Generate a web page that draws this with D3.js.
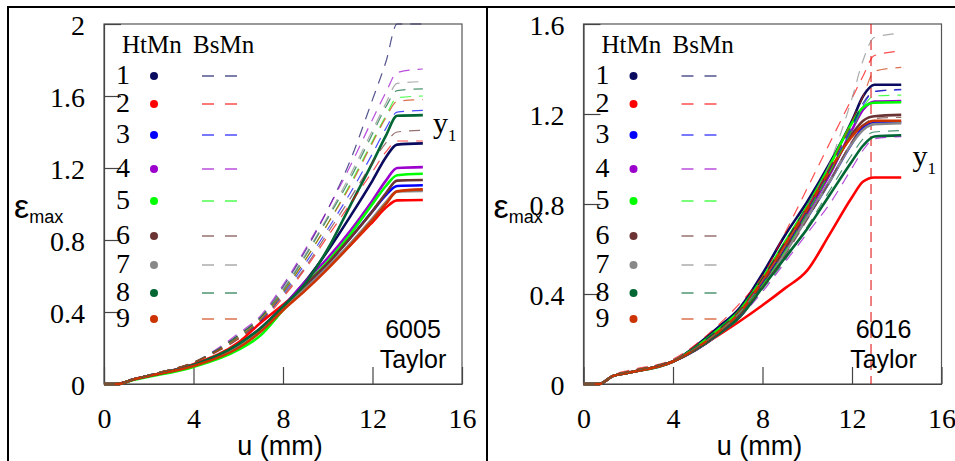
<!DOCTYPE html>
<html>
<head>
<meta charset="utf-8">
<script src="https://cdn.jsdelivr.net/npm/d3@7"></script>
<style>
  body { margin: 0; background: #fff; }
  svg { display: block; }
</style>
</head>
<body>
<svg id="chart"></svg>
<script>

// ----------------------------------------- Data -----------------------------------------

var seriesNames = ['1', '2', '3', '4', '5', '6', '7', '8', '9'];
var xTicks = [0, 4, 8, 12, 16];

// 6005 panel
var uLeft = [0, 0.6, 1.3, 2, 4, 6, 7, 8, 9, 10, 11, 12, 12.6, 13.1, 14.25];
var yTicksLeft = [0, 0.4, 0.8, 1.2, 1.6, 2];
var yLabelsLeft = ['0', '0.4', '0.8', '1.2', '1.6', '2'];

var htmnLeft = [
  [0, 0, .025, .045, .105, .22, .31, .43, .57, .74, .93, 1.13, 1.26, 1.33, 1.337],
  [0, 0, .025, .045, .11, .23, .34, .44, .54, .65, .77, .90, .98, 1.02, 1.022],
  [0, 0, .025, .045, .105, .21, .30, .42, .54, .67, .81, .96, 1.05, 1.10, 1.104],
  [0, 0, .025, .045, .105, .21, .31, .43, .57, .70, .85, 1.02, 1.13, 1.20, 1.205],
  [0, 0, .022, .04, .095, .19, .27, .41, .55, .68, .83, 1.00, 1.10, 1.16, 1.168],
  [0, 0, .025, .045, .105, .21, .30, .42, .55, .67, .81, .96, 1.06, 1.13, 1.133],
  [0, 0, .025, .045, .105, .21, .30, .42, .53, .65, .78, .92, 1.01, 1.07, 1.072],
  [0, 0, .025, .045, .105, .22, .31, .43, .56, .75, .99, 1.23, 1.38, 1.49, 1.494],
  [0, 0, .025, .045, .10, .20, .29, .41, .52, .64, .77, .91, 1.00, 1.07, 1.081]
];
var bsmnLeft = [
  [0, 0, .027, .05, .12, .27, .37, .54, .74, .97, 1.24, 1.58, 1.79, 2.0, 2.0],
  [0, 0, .027, .05, .12, .25, .34, .48, .64, .82, 1.00, 1.18, 1.29, 1.35, 1.35],
  [0, 0, .027, .05, .12, .26, .35, .50, .67, .86, 1.06, 1.28, 1.42, 1.51, 1.52],
  [0, 0, .027, .05, .12, .28, .38, .55, .75, .97, 1.21, 1.47, 1.62, 1.73, 1.75],
  [0, 0, .027, .05, .12, .26, .36, .51, .69, .89, 1.11, 1.35, 1.49, 1.59, 1.60],
  [0, 0, .027, .05, .12, .25, .35, .49, .65, .84, 1.03, 1.23, 1.34, 1.40, 1.41],
  [0, 0, .027, .05, .12, .27, .37, .53, .72, .93, 1.16, 1.41, 1.56, 1.67, 1.68],
  [0, 0, .027, .05, .12, .27, .37, .52, .71, .92, 1.14, 1.39, 1.54, 1.63, 1.64],
  [0, 0, .027, .05, .12, .26, .36, .51, .69, .89, 1.10, 1.34, 1.48, 1.57, 1.58]
];

// 6016 panel
var uRight = [0, 0.7, 1.3, 2, 4, 6, 7, 8, 9, 10, 11, 12, 12.5, 13, 14.2];
var yTicksRight = [0, 0.4, 0.8, 1.2, 1.6];
var yLabelsRight = ['0', '0.4', '0.8', '1.2', '1.6'];
var taylorRight = 12.85;

var htmnRight = [
  [0, 0, .035, .05, .10, .25, .34, .49, .66, .81, .98, 1.17, 1.28, 1.33, 1.33],
  [0, 0, .035, .05, .10, .215, .28, .35, .425, .505, .665, .83, .90, .918, .918],
  [0, 0, .035, .05, .10, .22, .31, .44, .59, .74, .90, 1.07, 1.14, 1.16, 1.163],
  [0, 0, .035, .05, .10, .22, .31, .44, .59, .76, .93, 1.13, 1.22, 1.255, 1.258],
  [0, 0, .035, .05, .10, .24, .33, .47, .63, .79, .97, 1.16, 1.23, 1.25, 1.252],
  [0, 0, .035, .05, .10, .22, .31, .45, .60, .77, .94, 1.11, 1.17, 1.19, 1.196],
  [0, 0, .035, .05, .10, .22, .30, .43, .58, .74, .90, 1.07, 1.13, 1.155, 1.159],
  [0, 0, .035, .05, .10, .22, .30, .43, .56, .69, .84, .99, 1.06, 1.10, 1.105],
  [0, 0, .035, .05, .10, .23, .32, .46, .62, .78, .95, 1.10, 1.15, 1.17, 1.170]
];
var bsmnRight = [
  [0, 0, .037, .055, .105, .24, .33, .47, .63, .79, .96, 1.15, 1.25, 1.30, 1.31],
  [0, 0, .04, .06, .11, .26, .36, .48, .67, .87, 1.07, 1.27, 1.37, 1.46, 1.48],
  [0, 0, .037, .055, .105, .23, .32, .45, .60, .77, .95, 1.14, 1.24, 1.30, 1.307],
  [0, 0, .037, .055, .105, .22, .30, .41, .54, .67, .80, .96, 1.04, 1.09, 1.099],
  [0, 0, .037, .055, .105, .23, .32, .44, .59, .76, .94, 1.13, 1.23, 1.28, 1.284],
  [0, 0, .037, .055, .105, .22, .31, .43, .57, .73, .90, 1.08, 1.15, 1.18, 1.185],
  [0, 0, .037, .055, .105, .23, .32, .46, .61, .79, .98, 1.27, 1.44, 1.54, 1.559],
  [0, 0, .037, .055, .105, .22, .30, .42, .55, .70, .86, 1.02, 1.09, 1.12, 1.126],
  [0, 0, .037, .055, .105, .23, .33, .46, .61, .78, .96, 1.17, 1.28, 1.39, 1.407]
];

var colors = ['#0a0a5e', '#ff0000', '#0000ff', '#9b00cc', '#00ff00', '#6b3333', '#888888', '#006633', '#cc3300'];

// ----------------------------------------- Layout -----------------------------------------

var width = 955;
var height = 461;
var plotTop = 24;
var plotBottom = 384;
var plotW = 358;
var legendRows = [76, 104, 135, 169, 201, 236, 265, 293, 319];
var serif = '"Liberation Serif", "Times New Roman", serif';
var sans = '"Liberation Sans", Arial, sans-serif';

var svg = d3.select('#chart')
            .attr('width', width)
            .attr('height', height);

svg.append('rect')
    .attr('width', width)
    .attr('height', height)
    .attr('fill', 'white');

// outer frame
svg.append('path')
    .attr('d', 'M8,461V7H955M487,7V461')
    .attr('fill', 'none')
    .attr('stroke', 'black')
    .attr('stroke-width', 2);

drawPanel({
  left: 104, u: uLeft, yMax: 2, yTicks: yTicksLeft, yLabels: yLabelsLeft,
  solid: htmnLeft, dashed: bsmnLeft, alloy: '6005', alloyX: 309,
  y1X: 329, y1Y: 133, taylor: null
});

drawPanel({
  left: 583.5, u: uRight, yMax: 1.6, yTicks: yTicksRight, yLabels: yLabelsRight,
  solid: htmnRight, dashed: bsmnRight, alloy: '6016', alloyX: 300,
  y1X: 329, y1Y: 166, taylor: taylorRight
});

// ----------------------------------------- Panel -----------------------------------------

function drawPanel(p) {

  var g = svg.append('g');

  var xScale = d3.scaleLinear()
                 .domain([0, 16])
                 .range([p.left, p.left + plotW]);

  var yScale = d3.scaleLinear()
                 .domain([0, p.yMax])
                 .range([plotBottom, plotTop]);

  var line = d3.line()
               .x((d, i) => xScale(p.u[i]))
               .y(d => yScale(d))
               .curve(d3.curveMonotoneX);

  // plot box
  g.append('rect')
      .attr('x', p.left)
      .attr('y', plotTop)
      .attr('width', plotW)
      .attr('height', plotBottom - plotTop)
      .attr('fill', 'none')
      .attr('stroke', '#555')
      .attr('stroke-width', 1.2);

  // Axis
  var yAxis = g.append('g')
      .attr('transform', `translate(${p.left}, 0)`)
      .call(d3.axisLeft(yScale)
              .tickValues(p.yTicks)
              .tickFormat((d, i) => p.yLabels[i])
              .tickSize(-17)
              .tickSizeOuter(0)
              .tickPadding(19));

  var xAxis = g.append('g')
      .attr('transform', `translate(0, ${plotBottom})`)
      .call(d3.axisBottom(xScale)
              .tickValues(xTicks)
              .tickSize(-17)
              .tickSizeOuter(0)
              .tickPadding(26));

  [yAxis, xAxis].forEach(function(a) {
    a.attr('font-family', serif).attr('font-size', 28);
    a.select('.domain').attr('stroke', '#444').attr('stroke-width', 1.2);
    a.selectAll('.tick line').attr('stroke', '#444').attr('stroke-width', 1.2);
    a.selectAll('.tick text')
        .attr('fill', 'black')
        .style('font-family', serif)
        .style('font-size', '28px');
  });
  yAxis.selectAll('.tick text').attr('dy', '0.38em');
  xAxis.selectAll('.tick text').attr('dy', '0.66em');

  // Taylor dashed marker
  if (p.taylor !== null) {
    g.append('line')
        .attr('x1', xScale(p.taylor))
        .attr('x2', xScale(p.taylor))
        .attr('y1', plotTop)
        .attr('y2', plotBottom)
        .attr('stroke', '#dd0000')
        .attr('stroke-width', 1)
        .attr('stroke-dasharray', '10,6');
  }

  // HtMn solid curves
  g.selectAll('.solid')
    .data(p.solid)
    .enter()
    .append('path')
      .classed('solid', true)
      .attr('d', line)
      .attr('fill', 'none')
      .attr('stroke', (d, i) => colors[i])
      .attr('stroke-width', 2.6);

  // BsMn dashed curves
  g.selectAll('.dashed')
    .data(p.dashed)
    .enter()
    .append('path')
      .classed('dashed', true)
      .attr('d', line)
      .attr('fill', 'none')
      .attr('stroke', (d, i) => colors[i])
      .attr('stroke-opacity', 0.7)
      .attr('stroke-width', 1.2)
      .attr('stroke-dasharray', '11,8');

  // Legend
  g.append('text')
      .text('HtMn')
      .attr('x', p.left + 18)
      .attr('y', 53)
      .style('font-family', serif)
      .style('font-size', '25px');

  g.append('text')
      .text('BsMn')
      .attr('x', p.left + 89)
      .attr('y', 53)
      .style('font-family', serif)
      .style('font-size', '25px');

  var rows = g.selectAll('.legend-row')
    .data(seriesNames)
    .enter()
    .append('g')
      .classed('legend-row', true)
      .attr('transform', (d, i) => `translate(${p.left}, ${legendRows[i]})`);

  rows.append('text')
      .text(d => d)
      .attr('x', 19)
      .attr('y', 8)
      .attr('text-anchor', 'middle')
      .style('font-family', serif)
      .style('font-size', '28px');

  rows.append('circle')
      .attr('cx', 50)
      .attr('cy', 0)
      .attr('r', 4)
      .attr('fill', (d, i) => colors[i]);

  rows.append('line')
      .attr('x1', 98)
      .attr('x2', 133)
      .attr('y1', 0)
      .attr('y2', 0)
      .attr('stroke', (d, i) => colors[i])
      .attr('stroke-opacity', 0.7)
      .attr('stroke-width', 1.3)
      .attr('stroke-dasharray', '12,11');

  // Annotations
  g.append('text')
      .text(p.alloy)
      .attr('x', p.left + p.alloyX)
      .attr('y', 338)
      .attr('text-anchor', 'middle')
      .style('font-family', sans)
      .style('font-size', '25px');

  g.append('text')
      .text('Taylor')
      .attr('x', p.left + p.alloyX)
      .attr('y', 368)
      .attr('text-anchor', 'middle')
      .style('font-family', sans)
      .style('font-size', '25px');

  var y1 = g.append('text')
      .attr('x', p.left + p.y1X)
      .attr('y', p.y1Y)
      .style('font-family', serif)
      .style('font-size', '30px');
  y1.append('tspan').text('y');
  y1.append('tspan').text('1').attr('dy', 8).style('font-size', '17px');

  // Axis titles
  g.append('text')
      .text('u (mm)')
      .attr('x', p.left + 176)
      .attr('y', 455)
      .attr('text-anchor', 'middle')
      .style('font-family', sans)
      .style('font-size', '27px');

  var yt = g.append('text')
      .attr('x', p.left - 90)
      .attr('y', 218)
      .style('font-family', sans)
      .style('font-size', '34px');
  yt.append('tspan').text('ε');
  yt.append('tspan').text('max').attr('dy', 5).style('font-size', '18px');
}

</script>
</body>
</html>
